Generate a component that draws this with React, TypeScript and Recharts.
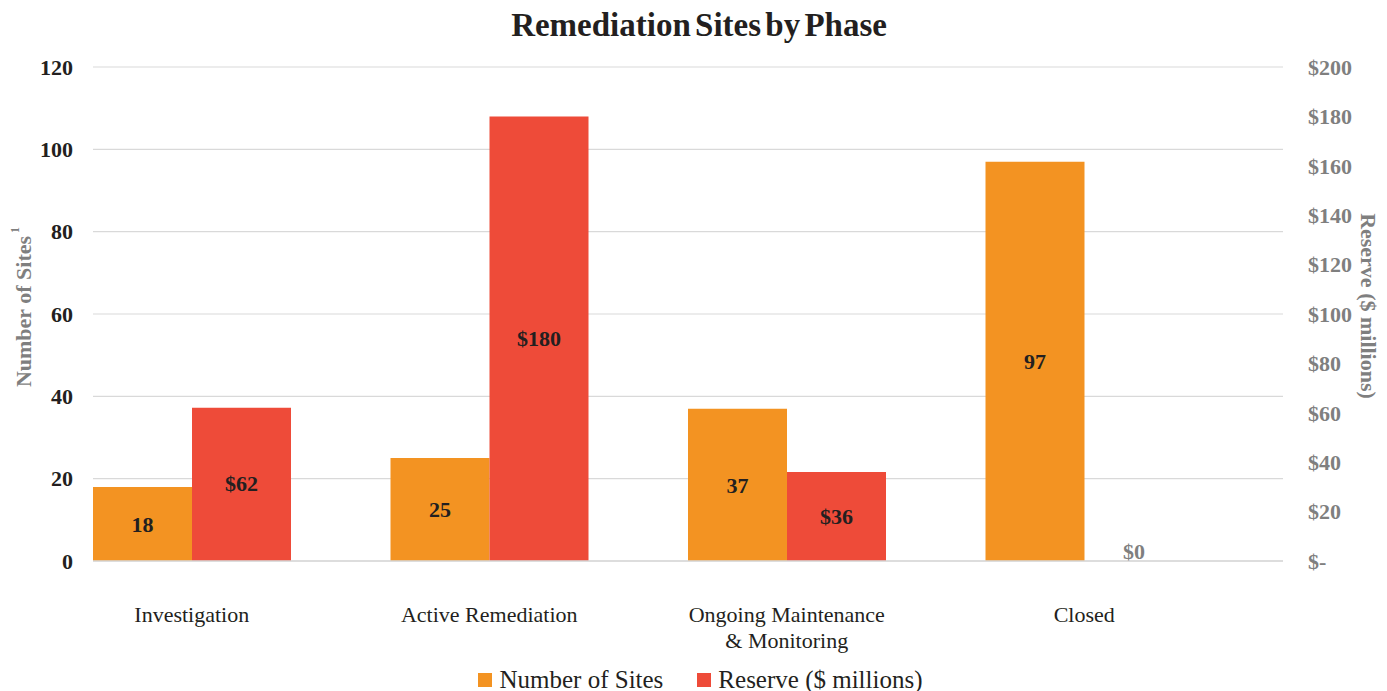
import React from "react";
import {
  BarChart,
  Bar,
  XAxis,
  YAxis,
  CartesianGrid,
  Legend,
  LabelList,
} from "recharts";

// values
const phases = [
  "Investigation",
  "Active Remediation",
  "Ongoing Maintenance & Monitoring",
  "Closed",
];
const siteCounts = [18, 25, 37, 97];
const reserves = [62, 180, 36, 0];

const siteTicks = [0, 20, 40, 60, 80, 100, 120];
const reserveTicks = [0, 20, 40, 60, 80, 100, 120, 140, 160, 180, 200];

const ORANGE = "#F39322";
const RED = "#EE4B39";
const GRAY = "#7f7f7f";
const INK = "#231f20";
const FONT = "'Liberation Serif', 'Times New Roman', serif";

const chartData = phases.map((phase, i) => ({
  phase,
  sites: siteCounts[i],
  reserve: reserves[i],
}));

const PhaseTick = (props: any) => {
  const { x, y, payload } = props;
  const text: string = payload.value;
  const cut = text.indexOf(" & ");
  const lines = cut > 0 ? [text.slice(0, cut), text.slice(cut + 1)] : [text];
  return (
    <text
      x={x}
      y={y + 55}
      textAnchor="middle"
      fill={INK}
      fontSize={22}
      fontFamily={FONT}
    >
      {lines.map((line, i) => (
        <tspan key={i} x={x} dy={i === 0 ? 0 : 26}>
          {line}
        </tspan>
      ))}
    </text>
  );
};

const ReserveLabel = (props: any) => {
  const { x, y, width, height, value } = props;
  const cx = x + width / 2;
  if (!value) {
    return (
      <text
        x={cx}
        y={y - 2}
        textAnchor="middle"
        fill={GRAY}
        fontSize={22}
        fontWeight="bold"
        fontFamily={FONT}
      >
        $0
      </text>
    );
  }
  return (
    <text
      x={cx}
      y={y + height / 2}
      dy={7}
      textAnchor="middle"
      fill={INK}
      fontSize={22}
      fontWeight="bold"
      fontFamily={FONT}
    >
      {"$" + value}
    </text>
  );
};

const LegendBox = () => (
  <div
    style={{
      display: "flex",
      justifyContent: "center",
      gap: 34,
      fontFamily: FONT,
      fontSize: 25,
      lineHeight: "30px",
      color: INK,
      paddingLeft: 14,
    }}
  >
    {[
      { name: "Number of Sites", color: ORANGE },
      { name: "Reserve ($ millions)", color: RED },
    ].map((item) => (
      <div key={item.name} style={{ display: "flex", alignItems: "center" }}>
        <span
          style={{
            width: 14,
            height: 14,
            background: item.color,
            display: "inline-block",
            marginRight: 7,
          }}
        />
        {item.name}
      </div>
    ))}
  </div>
);

export default function App() {
  return (
    <div
      style={{
        position: "absolute",
        left: 0,
        top: 0,
        width: 1387,
        height: 691,
        background: "#fff",
      }}
    >
      <div
        style={{
          position: "absolute",
          top: 7,
          left: 0,
          width: 1398,
          textAlign: "center",
          fontFamily: FONT,
          fontWeight: "bold",
          fontSize: 33,
          color: INK,
          wordSpacing: -4,
          zIndex: 2,
        }}
      >
        Remediation Sites by Phase
      </div>
      <BarChart
        width={1387}
        height={691}
        data={chartData}
        margin={{ top: 67, right: 0, bottom: 0, left: 0 }}
        barCategoryGap={50}
        barGap={0}
      >
        <CartesianGrid
          yAxisId="left"
          vertical={false}
          stroke="#d9d9d9"
          strokeWidth={1.2}
        />
        <XAxis
          dataKey="phase"
          height={100}
          padding={{ left: -50, right: 50 }}
          axisLine={{ stroke: "#d9d9d9", strokeWidth: 1.5 }}
          tickLine={false}
          tickMargin={0}
          tick={<PhaseTick />}
          interval={0}
        />
        <YAxis
          yAxisId="left"
          width={93}
          domain={[0, 120]}
          ticks={siteTicks}
          axisLine={false}
          tickLine={false}
          tickMargin={14}
          tick={{
            fill: INK,
            fontSize: 22,
            fontWeight: "bold",
            fontFamily: FONT,
          }}
          label={{
            content: (p: any) => {
              const vb = p.viewBox;
              const cy = vb.y + vb.height / 2 - 7;
              return (
                <text
                  x={23}
                  y={cy}
                  transform={`rotate(-90 23 ${cy})`}
                  textAnchor="middle"
                  dominantBaseline="central"
                  fill={GRAY}
                  fontSize={22}
                  fontWeight="bold"
                  fontFamily={FONT}
                >
                  Number of Sites
                  <tspan fontSize={12} dy={-8}>
                    {" 1"}
                  </tspan>
                </text>
              );
            },
          }}
        />
        <YAxis
          yAxisId="right"
          orientation="right"
          width={104}
          domain={[0, 200]}
          ticks={reserveTicks}
          axisLine={false}
          tickLine={false}
          tickMargin={19}
          tickFormatter={(v: number) => (v === 0 ? "$-" : "$" + v)}
          tick={{
            fill: GRAY,
            fontSize: 22,
            fontWeight: "bold",
            fontFamily: FONT,
          }}
          label={{
            content: (p: any) => {
              const vb = p.viewBox;
              const cy = vb.y + vb.height / 2 - 8;
              return (
                <text
                  x={1368}
                  y={cy}
                  transform={`rotate(90 1368 ${cy})`}
                  textAnchor="middle"
                  dominantBaseline="central"
                  fill={GRAY}
                  fontSize={22}
                  fontWeight="bold"
                  fontFamily={FONT}
                >
                  Reserve ($ millions)
                </text>
              );
            },
          }}
        />
        <Legend
          verticalAlign="bottom"
          content={<LegendBox />}
          wrapperStyle={{ height: 30, bottom: -4 }}
        />
        <Bar
          yAxisId="left"
          dataKey="sites"
          name="Number of Sites"
          fill={ORANGE}
          isAnimationActive={false}
        >
          <LabelList
            dataKey="sites"
            position="center"
            fill={INK}
            fontSize={22}
            fontWeight="bold"
            fontFamily={FONT}
          />
        </Bar>
        <Bar
          yAxisId="right"
          dataKey="reserve"
          name="Reserve ($ millions)"
          fill={RED}
          minPointSize={0.1}
          isAnimationActive={false}
        >
          <LabelList dataKey="reserve" content={<ReserveLabel />} />
        </Bar>
      </BarChart>
    </div>
  );
}
